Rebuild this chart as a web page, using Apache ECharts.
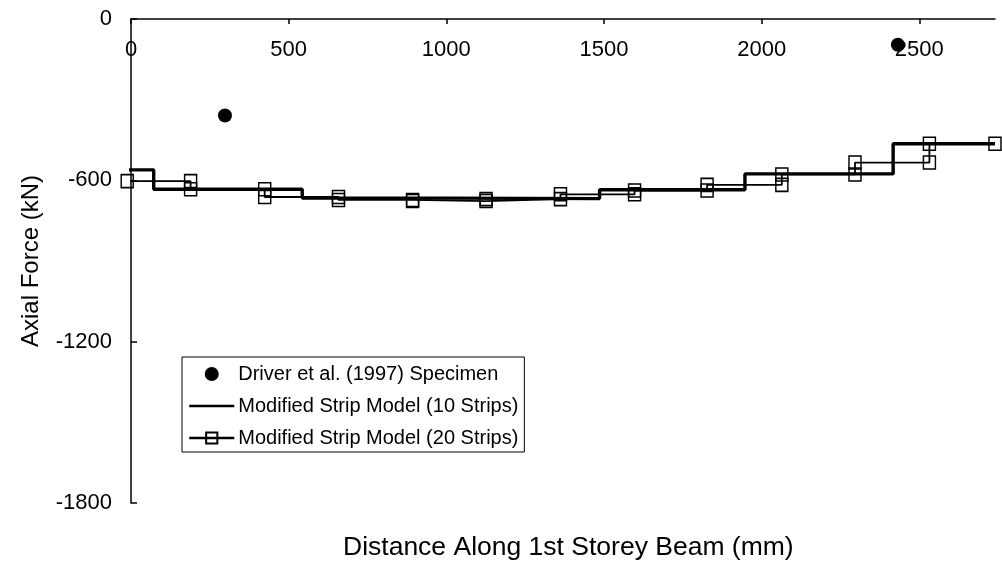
<!DOCTYPE html>
<html>
<head>
<meta charset="utf-8">
<script src="https://cdn.jsdelivr.net/npm/echarts@6/dist/echarts.min.js"></script>
<style>html,body{margin:0;padding:0;background:#fff}#c{width:1002px;height:566px}</style>
</head>
<body>
<div id="c"></div>
<script>
// ---- data ----
const xTicks = [0, 500, 1000, 1500, 2000, 2500];
const yTicks = [0, -600, -1200, -1800];
const seriesNames = ['Driver et al. (1997) Specimen', 'Modified Strip Model (10 Strips)', 'Modified Strip Model (20 Strips)'];
const driverX = [298, 2432];
const driverY = [-359, -96];
const strip10Bounds = [-20, 72, 543, 1013, 1486, 1947, 2417, 2740];
const strip10Values = [-561, -633, -666, -668, -635, -576, -464];
const strip20Bounds = [-12, 189, 424, 658, 893, 1126, 1362, 1597, 1827, 2064, 2296, 2532, 2740];
const strip20Values = [-603, -633, -662, -673, -677, -670, -652, -638, -617, -578, -534, -464];

function stepPoints(bounds, values) {
  const pts = [];
  for (let i = 0; i < values.length; i++) {
    pts.push([bounds[i], values[i]]);
    pts.push([bounds[i + 1], values[i]]);
  }
  return pts;
}

const FONT = 'Liberation Sans, Arial, sans-serif';
const plain = v => String(v);
const chart = echarts.init(document.getElementById('c'), null, {renderer: 'canvas'});
chart.setOption({
  backgroundColor: '#fff',
  animation: false,
  textStyle: {fontFamily: FONT, color: '#000'},
  grid: {left: 131, right: 7, top: 19, bottom: 63},
  legend: {
    orient: 'vertical',
    left: 182, top: 357,
    padding: [7, 6, 4, 6],
    itemGap: 12,
    itemWidth: 45, itemHeight: 14,
    borderColor: '#000', borderWidth: 1,
    textStyle: {fontFamily: FONT, fontSize: 20, color: '#000', padding: [0, 0, 0, -1]},
    data: [
      {name: seriesNames[0]},
      {name: seriesNames[1], itemStyle: {opacity: 0}, lineStyle: {width: 2.5}},
      {name: seriesNames[2], lineStyle: {width: 2.5}}
    ]
  },
  xAxis: {
    type: 'value', position: 'top',
    min: 0, max: 2740, interval: 500,
    axisLine: {show: true, lineStyle: {color: '#000', width: 1.5}},
    axisTick: {show: true, inside: true, length: 5, customValues: xTicks, lineStyle: {color: '#000', width: 1.5}},
    axisLabel: {inside: true, margin: 20, fontSize: 22, color: '#000', fontFamily: FONT, customValues: xTicks, formatter: plain},
    splitLine: {show: false}
  },
  yAxis: {
    type: 'value',
    min: -1800, max: 0, interval: 600,
    name: 'Axial Force (kN)', nameLocation: 'middle', nameGap: 88, nameRotate: 90,
    nameTextStyle: {fontSize: 24, color: '#000', fontFamily: FONT},
    axisLine: {show: true, lineStyle: {color: '#000', width: 1.5}},
    axisTick: {show: true, inside: true, length: 6, customValues: yTicks, lineStyle: {color: '#000', width: 1.5}},
    axisLabel: {margin: 19, fontSize: 22, color: '#000', fontFamily: FONT, customValues: yTicks, formatter: plain},
    splitLine: {show: false}
  },
  graphic: [{
    type: 'text', left: 343, top: 534,
    style: {text: 'Distance Along 1st Storey Beam (mm)', font: '26.5px ' + FONT, fill: '#000'}
  }],
  series: [
    {
      name: seriesNames[0], type: 'scatter',
      symbol: 'circle', symbolSize: 14,
      itemStyle: {color: '#000', opacity: 1},
      data: driverX.map((x, i) => [x, driverY[i]]),
      z: 5
    },
    {
      name: seriesNames[1], type: 'line', clip: false,
      symbol: 'none', showSymbol: false,
      lineStyle: {color: '#000', width: 3.4},
      itemStyle: {color: '#000'},
      data: stepPoints(strip10Bounds, strip10Values),
      z: 3
    },
    {
      name: seriesNames[2], type: 'line', clip: false,
      symbol: 'rect', symbolSize: [12, 13], showSymbol: true,
      lineStyle: {color: '#000', width: 1.8},
      itemStyle: {color: 'rgba(255,255,255,0)', borderColor: '#000', borderWidth: 1.5},
      data: stepPoints(strip20Bounds, strip20Values),
      z: 4
    }
  ]
});
</script>
</body>
</html>
